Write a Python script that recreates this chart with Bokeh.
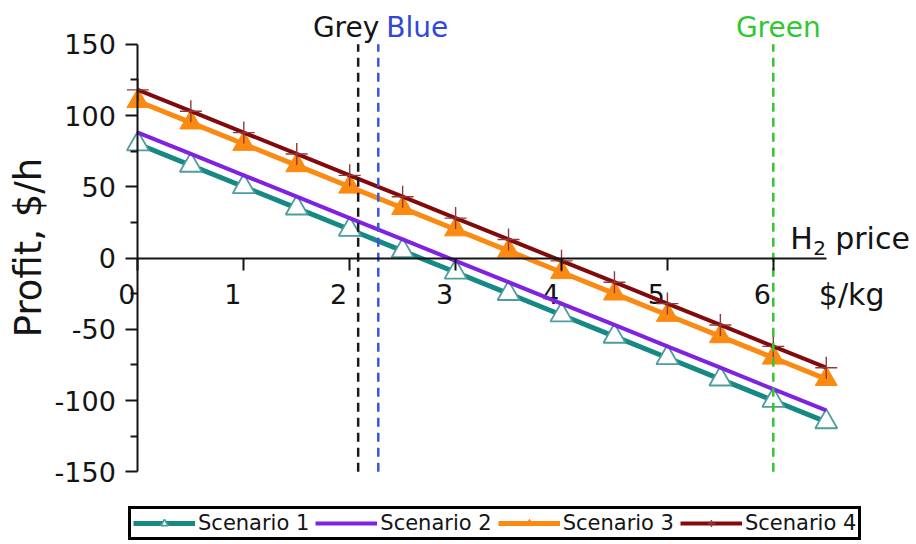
import math
from bokeh.plotting import figure
from bokeh.models import (Range1d, LinearAxis, FixedTicker, Legend, LegendItem,
                          ColumnDataSource)
from bokeh.core.properties import value
from bokeh.embed import file_html
from bokeh.resources import INLINE

# ---------------- data ----------------
h2_price = [0, 0.5, 1, 1.5, 2, 2.5, 3, 3.5, 4, 4.5, 5, 5.5, 6, 6.5]
scenario1 = [80, 65, 50, 35, 20, 5, -10, -25, -40, -55, -70, -85, -100, -115]
scenario2 = [88, 73, 58, 43, 28, 13, -2, -17, -32, -47, -62, -77, -92, -107]
scenario3 = [110, 95, 80, 65, 50, 35, 20, 5, -10, -25, -40, -55, -70, -85]
scenario4 = [118, 103, 88, 73, 58, 43, 28, 13, -2, -17, -32, -47, -62, -77]

ref_names = ["Grey", "Blue", "Green"]
ref_prices = [2.08, 2.27, 6.0]

x_ticks = [0, 1, 2, 3, 4, 5, 6]
x_tick_labels = ["0", "1", "2", "3", "4", "5", "6"]
y_ticks = [-150, -100, -50, 0, 50, 100, 150]
y_tick_labels = ["-150", "-100", "-50", "0", "50", "100", "150"]
y_minor = [-125, -75, -25, 25, 75, 125]

FONT = "DejaVu Sans"
TXT = "#141414"

# pixel mapping of the frame (whole canvas)
X0, SX = 137.4, 105.9
Y0, SY = 257.5, 1.425
W, H = 916, 544

p = figure(width=W, height=H, output_backend="svg", toolbar_location=None,
           x_axis_type=None, y_axis_type=None,
           x_range=Range1d(-X0 / SX, (W - X0) / SX),
           y_range=Range1d(-(H - Y0) / SY, Y0 / SY),
           min_border=0, min_border_left=0, min_border_right=0,
           min_border_top=0, min_border_bottom=0)
p.outline_line_color = None
p.xgrid.visible = False
p.ygrid.visible = False
p.background_fill_color = "white"
p.border_fill_color = "white"

# ---------------- axes ----------------
yaxis = LinearAxis(fixed_location=0, bounds=(-150, 150),
                   ticker=FixedTicker(ticks=y_ticks, minor_ticks=y_minor))
yaxis.axis_line_width = 2
yaxis.axis_line_color = TXT
yaxis.major_tick_out = 12
yaxis.major_tick_in = 0
yaxis.major_tick_line_width = 2
yaxis.major_tick_line_color = TXT
yaxis.minor_tick_out = 7
yaxis.minor_tick_in = 0
yaxis.minor_tick_line_width = 2
yaxis.minor_tick_line_color = TXT
yaxis.major_label_standoff = 10
yaxis.major_label_overrides = dict(zip(y_ticks, y_tick_labels))
yaxis.major_label_text_font = FONT
yaxis.major_label_text_font_size = "27px"
yaxis.major_label_text_color = TXT
p.add_layout(yaxis, "left")

xaxis = LinearAxis(fixed_location=0, bounds=(0, 6.5),
                   ticker=FixedTicker(ticks=x_ticks, minor_ticks=[]))
xaxis.axis_line_width = 2
xaxis.axis_line_color = TXT
xaxis.major_tick_out = 12
xaxis.major_tick_in = 0
xaxis.major_tick_line_width = 2
xaxis.major_tick_line_color = TXT
xaxis.minor_tick_out = 0
xaxis.minor_tick_in = 0
xaxis.major_label_overrides = {t: "" for t in x_ticks}
p.add_layout(xaxis, "below")

# x tick labels (set to the left of their ticks, as in the reference)
p.text(x=x_ticks, y=[0] * len(x_ticks), text=x_tick_labels,
       x_offset=-11, y_offset=36, text_align="center", text_baseline="middle",
       text_font=value(FONT), text_font_size="27px", text_color=TXT)

# axis titles
p.text(x=[-1.03], y=[7.4], text=["Profit, $/h"], angle=math.pi / 2,
       text_align="center", text_baseline="middle",
       text_font=value(FONT), text_font_size="37px", text_color=TXT)
# "H2 price" with a large subscript 2
p.text(x=[6.16], y=[0], text=["H"], x_offset=0, y_offset=-20,
       text_align="left", text_baseline="middle",
       text_font=value(FONT), text_font_size="30px", text_color=TXT)
p.text(x=[6.16], y=[0], text=["2"], x_offset=23, y_offset=-10,
       text_align="left", text_baseline="middle",
       text_font=value(FONT), text_font_size="20px", text_color=TXT)
p.text(x=[6.16], y=[0], text=["price"], x_offset=45, y_offset=-20,
       text_align="left", text_baseline="middle",
       text_font=value(FONT), text_font_size="30px", text_color=TXT)
p.text(x=[6.74], y=[0], text=["$/kg"], y_offset=36,
       text_align="center", text_baseline="middle",
       text_font=value(FONT), text_font_size="30px", text_color=TXT)

# ---------------- series ----------------
src = ColumnDataSource(dict(x=h2_price, s1=scenario1, s2=scenario2,
                            s3=scenario3, s4=scenario4))

c1, c2, c3, c4 = "#178985", "#7f22e2", "#fb8a12", "#820a0a"

l1 = p.line("x", "s1", source=src, line_color=c1, line_width=5)
m1 = p.scatter("x", "s1", source=src, marker="triangle", size=22,
               fill_color="white", line_color="#4e9c9c", line_width=1.8)
l2 = p.line("x", "s2", source=src, line_color=c2, line_width=4)
l3 = p.line("x", "s3", source=src, line_color=c3, line_width=5)
m3 = p.scatter("x", "s3", source=src, marker="triangle", size=22,
               fill_color=c3, line_color=c3, line_width=1)
l4 = p.line("x", "s4", source=src, line_color=c4, line_width=4)
m4 = p.scatter("x", "s4", source=src, marker="cross", size=22,
               line_color="#94393a", line_width=1.4)

# ---------------- reference price lines ----------------
ref_colors = ["#1a1a1a", "#3a55e0", "#33c633"]
for name, xp, col in zip(ref_names, ref_prices, ref_colors):
    p.segment(x0=[xp], y0=[-150], x1=[xp], y1=[150], line_color=col,
              line_width=2.5, line_dash="9 6")

# "Grey" ends at the blue line, "Blue" starts just right of it
p.text(x=[ref_prices[1]], y=[162], text=[ref_names[0]], x_offset=1,
       text_align="right", text_baseline="middle", text_font=value(FONT),
       text_font_size="28px", text_color=TXT)
p.text(x=[ref_prices[1]], y=[162], text=[ref_names[1]], x_offset=8,
       text_align="left", text_baseline="middle", text_font=value(FONT),
       text_font_size="28px", text_color="#2f48d8")
p.text(x=[ref_prices[2]], y=[162], text=[ref_names[2]], x_offset=5,
       text_align="center", text_baseline="middle", text_font=value(FONT),
       text_font_size="28px", text_color="#2fc82f")

# ---------------- legend ----------------
legend = Legend(items=[
    LegendItem(label="Scenario 1", renderers=[l1, m1]),
    LegendItem(label="Scenario 2", renderers=[l2]),
    LegendItem(label="Scenario 3", renderers=[l3, m3]),
    LegendItem(label="Scenario 4", renderers=[l4, m4]),
], location=(128, 4), orientation="horizontal")
legend.border_line_color = "black"
legend.border_line_alpha = 1
legend.border_line_width = 3
legend.background_fill_color = "white"
legend.background_fill_alpha = 1
legend.padding = 2
legend.spacing = 6
legend.margin = 0
legend.label_standoff = 3
legend.glyph_width = 62
legend.glyph_height = 18
legend.label_height = 18
legend.label_text_font = FONT
legend.label_text_font_size = "21px"
legend.label_text_line_height = 1.0
legend.label_text_color = TXT
p.add_layout(legend, "center")

open("out.html", "w").write(file_html(p, INLINE))
